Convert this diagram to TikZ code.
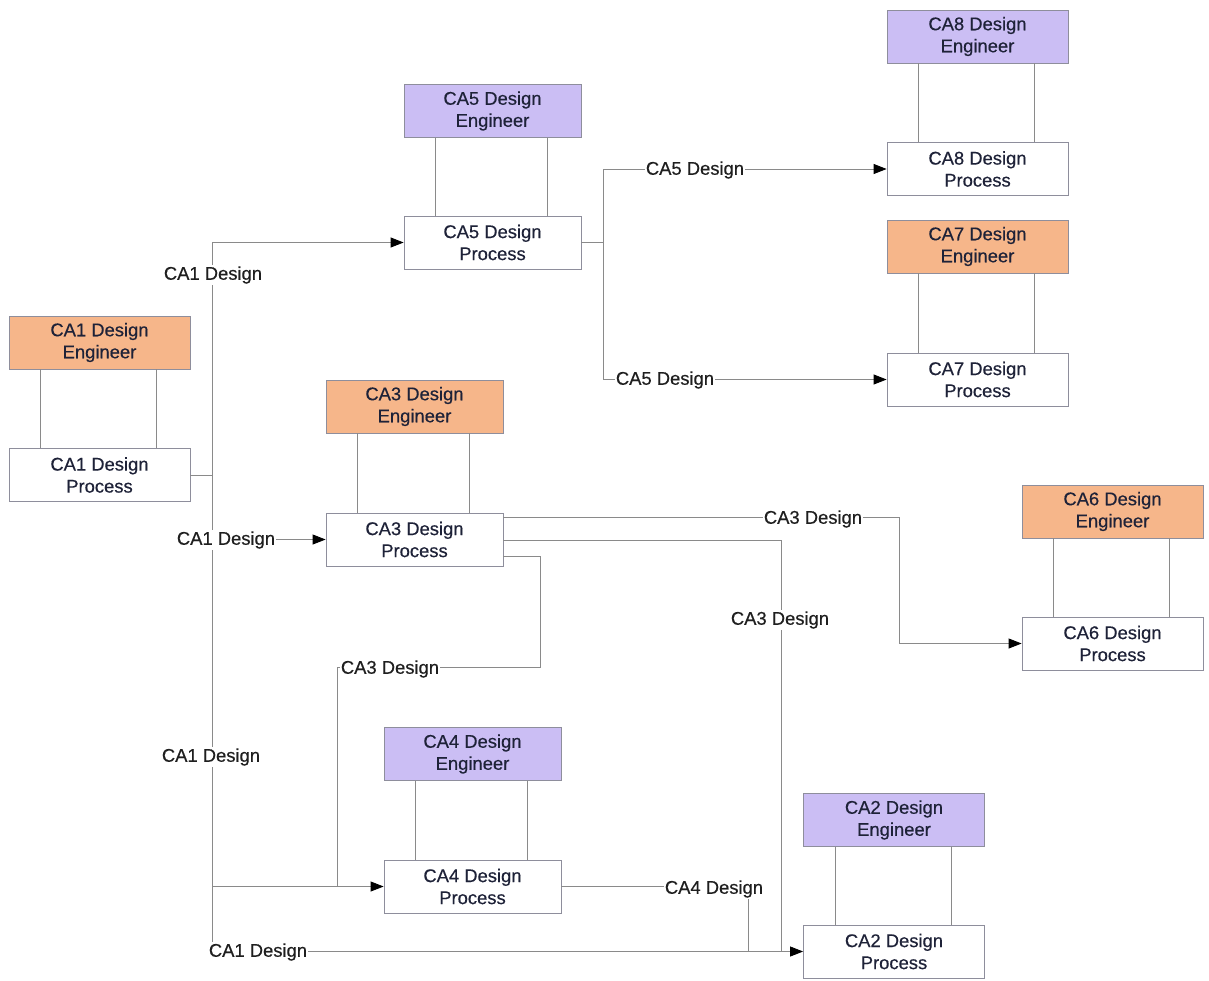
\documentclass[tikz,border=0pt]{standalone}
\usepackage{fontspec}
\setmainfont{Liberation Sans}
\newfontfamily\diagfont{Liberation Sans}[FakeBold=0.4]
\usetikzlibrary{arrows.meta}
\definecolor{engpurple}{HTML}{CBBEF4}
\definecolor{engorange}{HTML}{F6B68A}
\definecolor{boxline}{HTML}{8E8E9C}
\definecolor{wire}{HTML}{8A8A8A}
\definecolor{inktext}{HTML}{1E2238}
\begin{document}
\begin{tikzpicture}[x=1pt,y=-1pt,
  box/.style={rectangle, draw=boxline, line width=0.8pt, align=center,
    minimum height=53pt, inner sep=0pt, text=inktext,
    font=\diagfont\fontsize{18.4}{22}\selectfont},
  wide/.style={box, minimum width=181pt},
  narrow/.style={box, minimum width=177pt},
  purple/.style={fill=engpurple},
  orange/.style={fill=engorange},
  proc/.style={fill=white},
  conn/.style={draw=wire, line width=0.8pt},
  arr/.style={conn, -{Triangle[length=13pt,width=10pt,fill=black,color=black]}},
  link/.style={draw=wire, line width=0.8pt},
  lbl/.style={fill=white, inner xsep=1pt, inner ysep=1.5pt, text=black!88,
    font=\diagfont\fontsize{18.4}{22}\selectfont}
]
\useasboundingbox (0,0) rectangle (1209,980);

% engineers and their design processes
\node[wide, purple] (CA8E) at (977.5,36.5) {CA8 Design\\Engineer};
\node[wide, proc]   (CA8P) at (977.5,169)  {CA8 Design\\Process};
\node[narrow, purple] (CA5E) at (492.5,111)   {CA5 Design\\Engineer};
\node[narrow, proc]   (CA5P) at (492.5,242.5) {CA5 Design\\Process};
\node[wide, orange] (CA7E) at (977.5,246.5) {CA7 Design\\Engineer};
\node[wide, proc]   (CA7P) at (977.5,379.5) {CA7 Design\\Process};
\node[wide, orange] (CA1E) at (99.5,342.5) {CA1 Design\\Engineer};
\node[wide, proc]   (CA1P) at (99.5,475)   {CA1 Design\\Process};
\node[narrow, orange] (CA3E) at (414.5,406.5) {CA3 Design\\Engineer};
\node[narrow, proc]   (CA3P) at (414.5,539.5) {CA3 Design\\Process};
\node[wide, orange] (CA6E) at (1112.5,511.5) {CA6 Design\\Engineer};
\node[wide, proc]   (CA6P) at (1112.5,643.5) {CA6 Design\\Process};
\node[narrow, purple] (CA4E) at (472.5,754)   {CA4 Design\\Engineer};
\node[narrow, proc]   (CA4P) at (472.5,886.5) {CA4 Design\\Process};
\node[wide, purple] (CA2E) at (894,820)   {CA2 Design\\Engineer};
\node[wide, proc]   (CA2P) at (894,951.5) {CA2 Design\\Process};

% paired links between each engineer and its process
\foreach \n in {CA8,CA7,CA1,CA6,CA2,CA5,CA3,CA4}{
  \draw[link] ([xshift=32pt]\n E.south west) -- ([xshift=32pt]\n P.north west);
  \draw[link] ([xshift=-34pt]\n E.south east) -- ([xshift=-34pt]\n P.north east);
}

% junction and bend points
\coordinate (j1) at (212,475);
\coordinate (j5) at (603,242.5);
\coordinate (k6) at (899,600);
\coordinate (k2) at (781,951.5);
\coordinate (k3) at (540,667);
\coordinate (k4) at (337,886.5);
\coordinate (k7) at (748,951.5);

% CA1 design flows
\draw[conn] (CA1P.east) -- (j1);
\draw[arr] (j1) |- (CA5P.west);
\draw[arr] (j1) |- (CA3P.west);
\draw[arr] (j1) |- (CA4P.west);
\draw[arr] (j1) |- (CA2P.west);

% CA5 design flows
\draw[conn] (CA5P.east) -- (j5);
\draw[arr] (j5) |- (CA8P.west);
\draw[arr] (j5) |- (CA7P.west);

% CA3 design flows
\draw[arr] ([yshift=22pt]CA3P.east) -| (k6) |- (CA6P.west);
\draw[conn] ([yshift=-1pt]CA3P.east) -| (k2);
\draw[conn] ([yshift=-17pt]CA3P.east) -| (k3) -| (k4);

% CA4 design flow
\draw[conn] (CA4P.east) -| (k7);

% flow labels
\node[lbl] (l1) at (213,275) {CA1 Design};
\node[lbl] (l2) at (226,540) {CA1 Design};
\node[lbl] (l3) at (211,757) {CA1 Design};
\node[lbl] (l4) at (258,952) {CA1 Design};
\node[lbl] (l5) at (695,170) {CA5 Design};
\node[lbl] (l6) at (665,380) {CA5 Design};
\node[lbl] (l7) at (813,519) {CA3 Design};
\node[lbl] (l8) at (780,620) {CA3 Design};
\node[lbl] (l9) at (390,669) {CA3 Design};
\node[lbl] (l10) at (714,889) {CA4 Design};
\end{tikzpicture}
\end{document}
